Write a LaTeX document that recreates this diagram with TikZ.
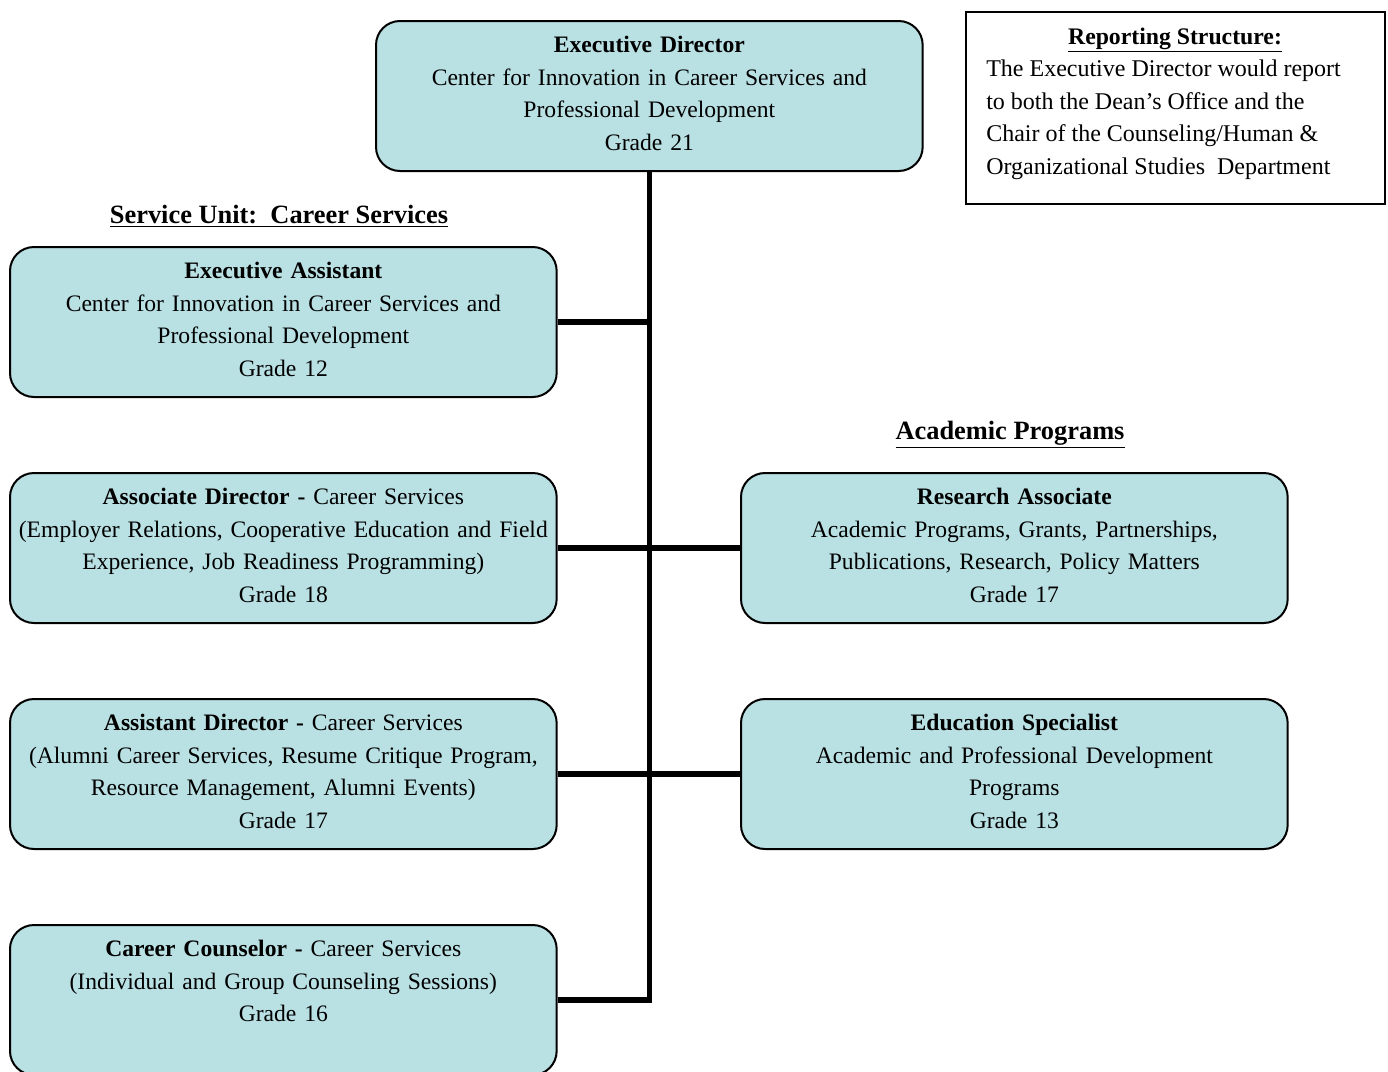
\documentclass[tikz,border=0pt]{standalone}
\usepackage{fontspec}
\setmainfont{Liberation Serif}
\usetikzlibrary{calc}
\definecolor{boxfill}{HTML}{B9E0E3}
\begin{document}
\begin{tikzpicture}[x=0.75pt,y=-0.75pt,
  every node/.style={font=\fontsize{17.7}{24.4}\selectfont},
  orgbox/.style={draw=black, line width=1.5pt, fill=boxfill, rounded corners=18pt,
    minimum width=410pt, minimum height=112.5pt, inner sep=0pt, anchor=north west},
  boxtext/.style={anchor=north, align=center, inner sep=0pt, text width=408pt},
  conn/.style={line width=4.2pt},
  heading/.style={font=\fontsize{19.8}{24}\selectfont\bfseries, inner sep=0pt}
]
\useasboundingbox (0,0) rectangle (1388,1071);
\begin{scope}
\clip (0,0) rectangle (1388,1071);
\node[orgbox] (ed) at (375,20) {};
\node[orgbox] (ea) at (9,246) {};
\node[orgbox] (ad) at (9,472) {};
\node[orgbox] (asd) at (9,698) {};
\node[orgbox] (cc) at (9,924) {};
\node[orgbox] (ra) at (740,472) {};
\node[orgbox] (es) at (740,698) {};

\draw[conn] (ed.south) -- (cc.east -| ed.south) -- (cc.east);
\draw[conn] (ea.east) -- (ea.east -| ed.south);
\draw[conn] (ad.east) -- (ra.west);
\draw[conn] (asd.east) -- (es.west);

\node[boxtext] (edt) at ($(ed.north)+(0,16)$) {\textbf{Executive Director}\\Center for Innovation in Career Services and\\Professional Development\\Grade 21};
\node[boxtext] (eat) at ($(ea.north)+(0,16)$) {\textbf{Executive Assistant}\\Center for Innovation in Career Services and\\Professional Development\\Grade 12};
\node[boxtext] (adt) at ($(ad.north)+(0,16)$) {\textbf{Associate Director -} Career Services\\(Employer Relations, Cooperative Education and Field\\Experience, Job Readiness Programming)\\Grade 18};
\node[boxtext] (asdt) at ($(asd.north)+(0,16)$) {\textbf{Assistant Director -} Career Services\\(Alumni Career Services, Resume Critique Program,\\Resource Management, Alumni Events)\\Grade 17};
\node[boxtext] (cct) at ($(cc.north)+(0,16)$) {\textbf{Career Counselor -} Career Services\\(Individual and Group Counseling Sessions)\\Grade 16};
\node[boxtext] (rat) at ($(ra.north)+(0,16)$) {\textbf{Research Associate}\\Academic Programs, Grants, Partnerships,\\Publications, Research, Policy Matters\\Grade 17};
\node[boxtext] (est) at ($(es.north)+(0,16)$) {\textbf{Education Specialist}\\Academic and Professional Development\\Programs\\Grade 13};

\node[heading] (h1) at (279,216) {\underline{Service Unit:\ \ Career Services}};
\node[heading] (h2) at (1010,435) {\underline{Academic Programs}};

\node[draw=black, line width=1.5pt, minimum width=314pt, minimum height=144pt, inner sep=0pt, anchor=north west] (rs) at (965,11) {};
\node[heading, font=\fontsize{17.8}{24}\selectfont\bfseries] (rst) at (1175,40) {\underline{Reporting Structure:}};
\node[anchor=north west, align=left, inner sep=0pt, font=\fontsize{18}{24.4}\selectfont] (rsb) at (986,60) {The Executive Director would report\\to both the Dean’s Office and the\\Chair of the Counseling/Human \&\\Organizational Studies\ \ Department};
\end{scope}
\end{tikzpicture}
\end{document}
